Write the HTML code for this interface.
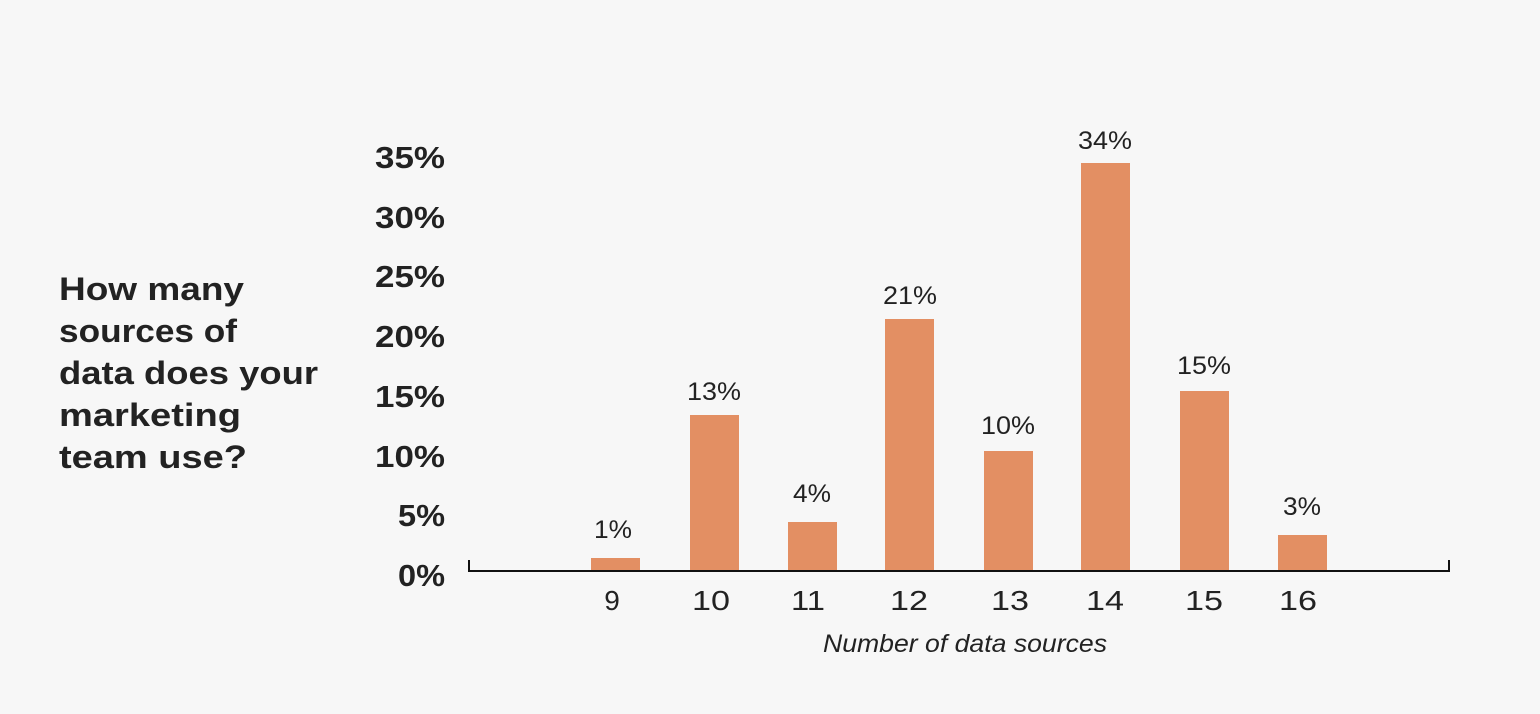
<!DOCTYPE html>
<html><head><style>
body{margin:0;background:#f7f7f7;}
svg{display:block}
text{font-family:"Liberation Sans",sans-serif;fill:#222}
</style></head><body>
<svg width="1540" height="714" viewBox="0 0 1540 714">
<rect width="1540" height="714" fill="#f7f7f7"/>
<g font-weight="bold" font-size="32" lengthAdjust="spacingAndGlyphs">
<text x="59" y="300" textLength="185" lengthAdjust="spacingAndGlyphs">How many</text>
<text x="59" y="342" textLength="178" lengthAdjust="spacingAndGlyphs">sources of</text>
<text x="59" y="384" textLength="259" lengthAdjust="spacingAndGlyphs">data does your</text>
<text x="59" y="426" textLength="182" lengthAdjust="spacingAndGlyphs">marketing</text>
<text x="59" y="468" textLength="188" lengthAdjust="spacingAndGlyphs">team use?</text>
</g>
<g font-weight="bold" font-size="31">
<text x="375" y="168" textLength="70" lengthAdjust="spacingAndGlyphs">35%</text>
<text x="375" y="228" textLength="70" lengthAdjust="spacingAndGlyphs">30%</text>
<text x="375" y="287" textLength="70" lengthAdjust="spacingAndGlyphs">25%</text>
<text x="375" y="347" textLength="70" lengthAdjust="spacingAndGlyphs">20%</text>
<text x="375" y="407" textLength="70" lengthAdjust="spacingAndGlyphs">15%</text>
<text x="375" y="467" textLength="70" lengthAdjust="spacingAndGlyphs">10%</text>
<text x="398" y="526" textLength="47" lengthAdjust="spacingAndGlyphs">5%</text>
<text x="398" y="586" textLength="47" lengthAdjust="spacingAndGlyphs">0%</text>
</g>
<g fill="#e38f63">
<rect x="591" y="558" width="49" height="12"/>
<rect x="690" y="415" width="49" height="155"/>
<rect x="788" y="522" width="49" height="48"/>
<rect x="885" y="319" width="49" height="251"/>
<rect x="984" y="451" width="49" height="119"/>
<rect x="1081" y="163" width="49" height="407"/>
<rect x="1180" y="391" width="49" height="179"/>
<rect x="1278" y="535" width="49" height="35"/>
</g>
<path d="M469 560V571H1449V560" fill="none" stroke="#111" stroke-width="2"/>
<g font-size="25">
<text x="594" y="538" textLength="38" lengthAdjust="spacingAndGlyphs">1%</text>
<text x="687" y="400" textLength="54" lengthAdjust="spacingAndGlyphs">13%</text>
<text x="793" y="502" textLength="38" lengthAdjust="spacingAndGlyphs">4%</text>
<text x="883" y="304" textLength="54" lengthAdjust="spacingAndGlyphs">21%</text>
<text x="981" y="434" textLength="54" lengthAdjust="spacingAndGlyphs">10%</text>
<text x="1078" y="149" textLength="54" lengthAdjust="spacingAndGlyphs">34%</text>
<text x="1177" y="374" textLength="54" lengthAdjust="spacingAndGlyphs">15%</text>
<text x="1283" y="515" textLength="38" lengthAdjust="spacingAndGlyphs">3%</text>
</g>
<g font-size="28" text-anchor="middle">
<text x="612" y="610">9</text>
<text x="711" y="610" textLength="38" lengthAdjust="spacingAndGlyphs">10</text>
<text x="808" y="610" textLength="34" lengthAdjust="spacingAndGlyphs">11</text>
<text x="909" y="610" textLength="38" lengthAdjust="spacingAndGlyphs">12</text>
<text x="1010" y="610" textLength="38" lengthAdjust="spacingAndGlyphs">13</text>
<text x="1105" y="610" textLength="38" lengthAdjust="spacingAndGlyphs">14</text>
<text x="1204" y="610" textLength="38" lengthAdjust="spacingAndGlyphs">15</text>
<text x="1298" y="610" textLength="38" lengthAdjust="spacingAndGlyphs">16</text>
</g>
<text x="823" y="652" font-size="25" font-style="italic" textLength="284" lengthAdjust="spacingAndGlyphs">Number of data sources</text>
</svg>
</body></html>
